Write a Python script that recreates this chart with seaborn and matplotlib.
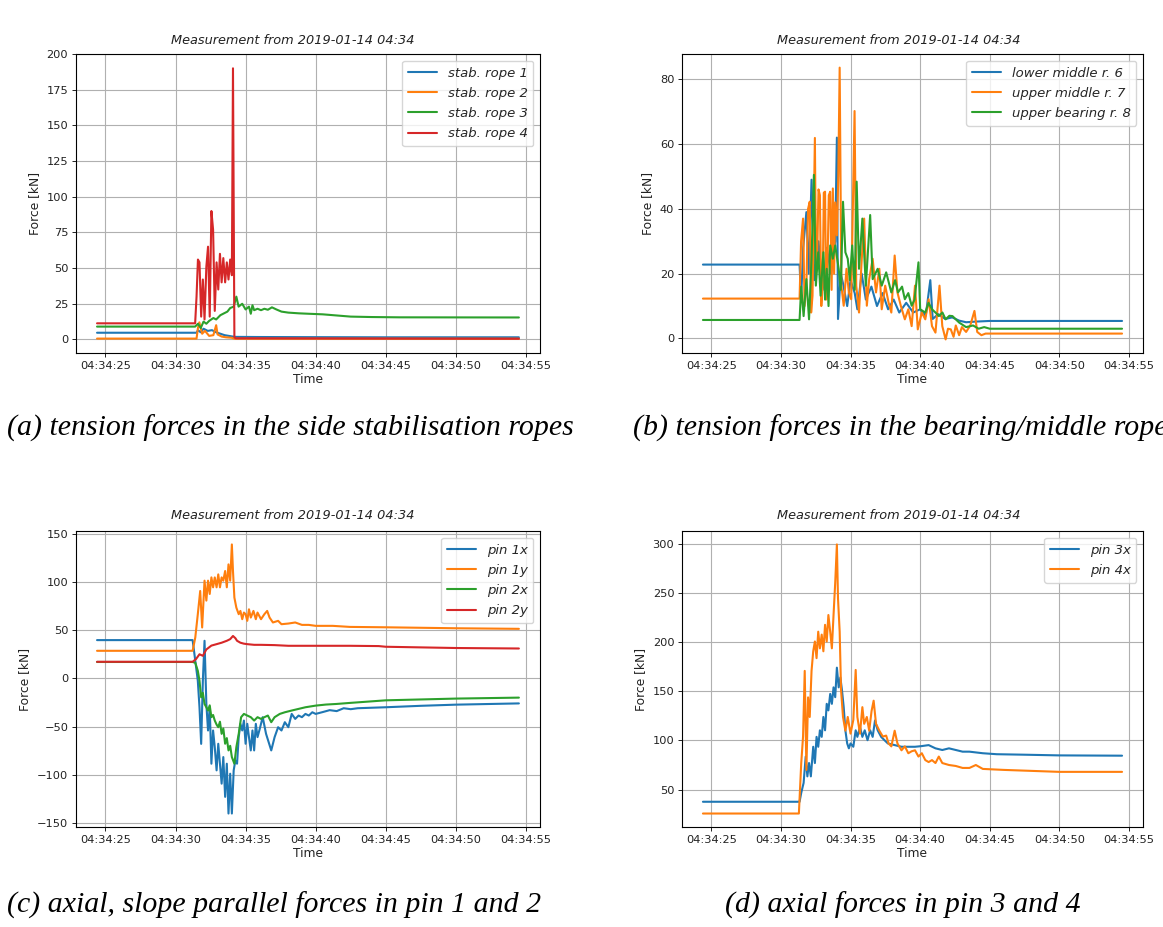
import numpy as np
import pandas as pd
import matplotlib
matplotlib.use("Agg")
import matplotlib.pyplot as plt
import matplotlib.dates as mdates
from matplotlib.ticker import MultipleLocator
import seaborn as sns

# ---------------- data (seconds after 04:34:00, force in kN) ----------------
BASE = "2019-01-14 04:34:00"
TITLE = "Measurement from 2019-01-14 04:34"

# (a) side stabilisation ropes
a_labels = ["stab. rope 1", "stab. rope 2", "stab. rope 3", "stab. rope 4"]
a_t1 = [24.4, 31.5, 31.6, 31.8, 32.0, 32.3, 32.6, 32.9, 33.2, 33.5, 33.8, 34.1, 34.3, 36.0, 40.0, 45.0, 54.5]
a_f1 = [4.7, 4.7, 6.5, 5.0, 7.5, 6.0, 6.5, 5.0, 4.0, 3.0, 2.5, 2.0, 1.8, 1.7, 1.6, 1.5, 1.5]
a_t2 = [24.4, 31.5, 31.6, 31.7, 31.9, 32.1, 32.4, 32.7, 32.9, 33.0, 33.3, 33.6, 34.0, 34.2, 54.5]
a_f2 = [0.6, 0.6, 8.0, 12.0, 4.0, 6.0, 2.5, 3.0, 10.0, 3.5, 2.0, 1.5, 1.2, 0.5, 0.5]
a_t3 = [24.4, 31.4, 31.6, 31.8, 32.0, 32.2, 32.4, 32.7, 32.9, 33.2, 33.4, 33.7, 33.9, 34.15, 34.34,
        34.5, 34.76, 35.0, 35.24, 35.37, 35.49, 35.61, 35.85, 36.1, 36.34, 36.59, 36.88, 37.2,
        37.56, 38.05, 38.8, 39.5, 40.5, 41.5, 42.5, 44.0, 46.0, 54.5]
a_f3 = [9.0, 9.0, 11.0, 8.0, 12.5, 11.0, 13.0, 15.0, 14.0, 17.0, 18.0, 19.5, 22.0, 23.0, 30.0,
        23.0, 25.0, 21.0, 23.0, 18.0, 24.0, 20.5, 21.5, 20.5, 21.5, 20.8, 22.5, 21.0,
        19.5, 18.8, 18.3, 18.0, 17.6, 16.8, 16.0, 15.7, 15.5, 15.4]
a_t4 = [24.4, 31.4, 31.5, 31.6, 31.71, 31.83, 31.95, 32.07, 32.2, 32.32, 32.44, 32.56, 32.68, 32.8,
        32.93, 33.05, 33.17, 33.29, 33.41, 33.54, 33.66, 33.78, 33.9, 34.02, 34.1, 34.2, 34.3, 54.5]
a_f4 = [11.3, 11.3, 30.0, 56.0, 54.0, 16.0, 42.0, 14.0, 51.0, 65.0, 16.0, 90.0, 77.0, 20.0,
        54.0, 35.0, 60.0, 40.0, 57.0, 40.0, 54.0, 42.0, 56.0, 45.0, 190.0, 1.5, 0.8, 0.5]

# (b) bearing / middle ropes
b_labels = ["lower middle r. 6", "upper middle r. 7", "upper bearing r. 8"]
b_t6 = [24.4, 31.34, 31.45, 31.6, 31.83, 32.0, 32.2, 32.4, 32.7, 33.0, 33.3, 33.6, 33.9, 34.02,
        34.1, 34.3, 34.46, 34.76, 35.0, 35.3, 35.49, 35.8, 36.1, 36.5, 36.9, 37.3, 37.7, 38.1,
        38.5, 39.0, 39.5, 40.0, 40.4, 40.73, 40.9, 41.3, 41.8, 42.3, 42.8, 43.3, 44.0, 45.0, 54.5]
b_f6 = [22.8, 22.8, 12.0, 28.0, 39.0, 20.0, 49.0, 18.0, 30.0, 15.0, 28.0, 20.0, 30.0, 62.0,
        6.0, 20.0, 17.0, 10.0, 18.0, 14.0, 9.0, 20.0, 12.0, 16.0, 10.0, 14.0, 9.0, 12.0,
        8.0, 11.0, 8.0, 9.0, 7.0, 18.0, 6.0, 7.5, 6.0, 6.5, 5.5, 5.0, 5.2, 5.4, 5.4]
b_t7 = [24.4, 31.34, 31.45, 31.59, 31.7, 31.83, 31.95, 32.07, 32.17, 32.27,
        32.44, 32.52, 32.61, 32.7, 32.8, 32.9, 33.0, 33.08, 33.17, 33.25,
        33.34, 33.44, 33.54, 33.64, 33.73, 33.82, 33.9, 34.02, 34.12, 34.22,
        34.34, 34.51, 34.71, 34.88, 35.05, 35.29, 35.41, 35.61, 35.78, 35.98,
        36.17, 36.34, 36.59, 36.83, 37.07, 37.24, 37.49, 37.73, 37.93, 38.17,
        38.37, 38.61, 38.9, 39.15, 39.39, 39.63, 39.83, 40.12, 40.37, 40.61,
        40.85, 41.1, 41.39, 41.59, 41.83, 42.0, 42.2, 42.4, 42.56, 42.8,
        43.0, 43.3, 43.6, 43.9, 44.1, 44.4, 44.7, 45.2, 54.5]
b_f7 = [12.3, 12.3, 30.0, 37.0, 10.0, 16.3, 40.0, 42.2, 8.0, 13.2,
        61.9, 20.0, 26.6, 46.0, 44.2, 10.0, 16.3, 45.0, 45.3, 12.0,
        21.5, 44.2, 45.3, 15.0, 46.3, 20.0, 42.0, 31.8, 50.0, 83.6,
        16.3, 10.1, 21.5, 14.2, 12.1, 70.2, 16.3, 8.0, 22.5, 37.0,
        10.1, 18.3, 24.6, 14.2, 21.5, 9.0, 16.3, 11.1, 8.0, 25.6,
        14.2, 10.1, 5.9, 9.0, 3.8, 16.3, 2.8, 8.0, 5.9, 12.1,
        3.8, 1.8, 16.3, 3.8, -0.3, 3.0, 2.8, 0.5, 4.0, 1.0,
        3.5, 2.0, 4.0, 8.5, 2.0, 1.0, 1.5, 1.5, 1.5]
b_t8 = [24.4, 31.34, 31.46, 31.63, 31.83, 32.02, 32.2, 32.37, 32.51, 32.68,
        32.85, 33.05, 33.17, 33.29, 33.42, 33.54, 33.73, 33.9, 34.15, 34.3,
        34.46, 34.63, 34.8, 34.95, 35.12, 35.3, 35.44, 35.61, 35.85, 36.1,
        36.41, 36.59, 36.95, 37.24, 37.56, 37.93, 38.2, 38.41, 38.7, 38.9,
        39.15, 39.39, 39.6, 39.88, 40.0, 40.37, 40.6, 40.85, 41.1, 41.34,
        41.6, 41.83, 42.1, 42.32, 42.8, 43.3, 43.8, 44.2, 44.6, 45.0, 54.5]
b_f8 = [5.7, 5.7, 16.0, 6.9, 18.3, 5.9, 24.6, 50.5, 16.3, 26.6,
        13.2, 26.6, 12.0, 21.5, 10.0, 28.7, 24.6, 28.7, 21.5, 15.0,
        42.2, 26.6, 24.6, 18.0, 28.7, 15.0, 48.4, 21.5, 37.0, 16.3,
        38.1, 18.3, 21.5, 16.3, 20.4, 14.2, 18.0, 14.2, 16.0, 12.1,
        14.0, 10.1, 12.0, 23.5, 9.0, 8.0, 11.0, 9.0, 8.0, 6.9,
        8.0, 5.9, 7.0, 6.9, 4.9, 3.5, 4.0, 3.0, 3.5, 3.0, 3.0]

# (c) pins 1 and 2
c_labels = ["pin 1x", "pin 1y", "pin 2x", "pin 2y"]
c_t1x = [24.4, 31.22, 31.41, 31.59, 31.71, 31.83, 31.95, 32.07, 32.2, 32.32, 32.44, 32.56, 32.68,
         32.8, 32.93, 33.05, 33.17, 33.29, 33.41, 33.54, 33.66, 33.78, 33.9, 34.02, 34.15, 34.27,
         34.39, 34.51, 34.63, 34.76, 34.88, 35.0, 35.12, 35.24, 35.37, 35.49, 35.61, 35.73, 35.85,
         35.98, 36.1, 36.22, 36.46, 36.83, 37.07, 37.32, 37.56, 37.8, 38.05, 38.29, 38.54, 38.78,
         39.02, 39.27, 39.51, 39.76, 40.0, 40.5, 41.0, 41.5, 42.0, 42.5, 43.0, 45.0, 47.5, 50.0, 54.5]
c_f1x = [39.7, 39.7, 18.3, -2.4, -30.0, -68.0, -2.4, 39.0, -26.6, -54.1, -29.7, -88.6, -54.1,
         -71.4, -95.5, -67.9, -88.6, -109.3, -81.7, -123.0, -88.6, -140.3, -99.0, -140.3, -95.5, -85.2,
         -88.6, -60.7, -47.2, -54.1, -43.8, -67.9, -47.2, -61.0, -74.8, -54.1, -74.8, -47.2, -61.0,
         -54.1, -47.2, -40.3, -57.6, -74.8, -61.0, -50.7, -54.1, -45.5, -50.7, -36.9, -42.1, -38.6,
         -40.3, -36.9, -38.6, -35.2, -36.9, -35.0, -33.0, -34.0, -31.0, -32.0, -31.0, -30.0, -28.5, -27.3, -26.0]
c_t1y = [24.4, 31.22, 31.41, 31.59, 31.76, 31.9, 32.07, 32.2, 32.32, 32.44, 32.56, 32.68, 32.8,
         32.93, 33.05, 33.17, 33.29, 33.41, 33.54, 33.66, 33.78, 33.9, 34.02, 34.1, 34.2, 34.34,
         34.51, 34.63, 34.76, 34.88, 35.0, 35.12, 35.24, 35.37, 35.56, 35.73, 35.85, 36.1, 36.34,
         36.54, 36.71, 36.95, 37.32, 37.56, 38.05, 38.54, 39.02, 39.51, 40.0, 41.22, 42.44, 45.0, 50.0, 54.5]
c_f1y = [28.6, 28.6, 42.4, 66.6, 90.7, 52.8, 101.4, 80.7, 101.4, 87.6, 104.8, 94.5, 104.8,
         94.5, 107.9, 94.5, 104.8, 101.4, 111.4, 94.5, 118.3, 101.4, 139.0, 111.4, 83.8, 73.4,
         66.6, 70.0, 61.4, 68.3, 66.6, 59.7, 71.7, 63.1, 70.0, 61.4, 68.3, 61.4, 66.6,
         70.0, 63.1, 58.0, 59.7, 56.2, 56.9, 58.0, 55.5, 55.5, 54.5, 54.5, 53.4, 53.0, 52.0, 51.4]
c_t2x = [24.4, 31.22, 31.41, 31.59, 31.71, 31.83, 31.95, 32.07, 32.2, 32.32, 32.44, 32.56, 32.68,
         32.8, 32.93, 33.05, 33.17, 33.29, 33.41, 33.54, 33.66, 33.78, 33.9, 34.02, 34.2, 34.34,
         34.51, 34.68, 34.88, 35.12, 35.37, 35.61, 35.85, 36.1, 36.34, 36.59, 36.83, 37.07, 37.44,
         37.8, 38.29, 38.78, 39.27, 40.0, 40.73, 41.46, 42.44, 45.0, 50.0, 54.5]
c_f2x = [17.0, 17.0, 16.2, 7.9, -2.4, -19.7, -15.0, -26.6, -30.0, -33.4, -28.0, -40.3, -38.0,
         -43.8, -48.0, -50.7, -45.0, -57.6, -52.0, -67.9, -62.0, -74.8, -70.0, -81.7, -88.6, -71.4,
         -57.6, -40.3, -36.9, -38.6, -40.3, -43.8, -40.3, -42.1, -40.3, -38.6, -45.5, -40.3, -36.9,
         -35.2, -33.4, -31.7, -30.0, -28.3, -27.2, -26.6, -25.5, -22.8, -21.0, -20.0]
c_t2y = [24.4, 31.22, 31.46, 31.71, 31.95, 32.2, 32.56, 32.93, 33.29, 33.66, 33.9, 34.1, 34.27,
         34.39, 34.63, 34.88, 35.12, 35.61, 36.1, 37.07, 38.05, 40.0, 42.44, 44.5, 45.0, 50.0, 54.5]
c_f2y = [17.2, 17.2, 20.0, 25.0, 23.4, 30.0, 34.0, 35.5, 37.0, 39.0, 40.7, 44.0, 41.7,
         39.0, 37.0, 36.0, 35.5, 34.8, 34.8, 34.5, 33.8, 33.8, 33.8, 33.5, 32.8, 31.5, 31.0]

# (d) pins 3 and 4
d_labels = ["pin 3x", "pin 4x"]
d_t3 = [24.4, 31.34, 31.46, 31.63, 31.78, 31.9, 32.02, 32.15, 32.32, 32.44, 32.56, 32.68, 32.8,
        32.93, 33.05, 33.17, 33.29, 33.41, 33.54, 33.66, 33.78, 33.9, 34.02, 34.15, 34.27, 34.39,
        34.51, 34.63, 34.76, 34.88, 35.0, 35.2, 35.37, 35.49, 35.68, 35.85, 36.02, 36.22, 36.41,
        36.59, 36.76, 36.95, 37.2, 37.44, 37.68, 38.17, 38.66, 39.15, 39.63, 40.12, 40.61, 41.1,
        41.59, 42.07, 42.56, 43.05, 43.54, 44.5, 45.5, 47.5, 50.0, 54.5]
d_f3 = [37.5, 37.5, 46.6, 56.7, 83.6, 63.4, 77.0, 63.4, 93.6, 77.0, 103.7, 93.6, 110.4,
        103.7, 124.0, 110.4, 137.4, 130.7, 147.5, 137.4, 154.2, 144.2, 174.3, 154.2, 164.3, 150.8,
        134.0, 110.4, 97.0, 92.0, 97.0, 93.6, 110.4, 103.7, 113.8, 103.7, 110.4, 100.3, 110.4,
        103.7, 120.5, 110.4, 103.7, 100.3, 97.0, 95.3, 93.6, 93.6, 93.6, 94.3, 95.3, 92.0,
        90.3, 92.0, 90.3, 88.6, 88.6, 87.0, 86.0, 85.5, 84.8, 84.5]
d_t4 = [24.4, 31.29, 31.46, 31.59, 31.71, 31.83, 31.95, 32.07, 32.2, 32.32, 32.44, 32.56, 32.68,
        32.8, 32.93, 33.05, 33.17, 33.29, 33.41, 33.54, 33.66, 33.78, 33.9, 34.02, 34.1, 34.22,
        34.32, 34.46, 34.63, 34.8, 35.0, 35.2, 35.37, 35.49, 35.68, 35.85, 35.98, 36.17, 36.34,
        36.51, 36.66, 36.83, 37.07, 37.32, 37.56, 37.73, 37.93, 38.17, 38.37, 38.66, 38.9, 39.15,
        39.39, 39.63, 39.88, 40.12, 40.37, 40.61, 40.85, 41.1, 41.34, 41.59, 42.07, 42.56, 43.05,
        43.54, 44.0, 44.5, 46.0, 50.0, 54.5]
d_f4 = [25.5, 25.5, 77.0, 104.0, 171.0, 70.0, 144.0, 124.0, 171.0, 191.0, 201.0, 184.0, 211.0,
        194.0, 208.0, 191.0, 218.0, 201.0, 228.0, 211.0, 194.0, 228.0, 261.0, 300.0, 245.0, 211.0,
        151.0, 124.0, 110.0, 124.0, 107.0, 121.0, 172.0, 124.0, 107.0, 134.0, 117.0, 124.0, 110.0,
        130.0, 140.6, 117.0, 110.0, 104.0, 105.0, 97.0, 94.0, 110.0, 97.0, 90.0, 94.0, 87.0,
        89.0, 90.0, 83.6, 87.0, 80.0, 78.0, 80.0, 77.0, 83.6, 77.0, 75.0, 74.0, 72.0,
        72.0, 75.0, 71.0, 70.0, 68.0, 68.0]

# ---------------- styling ----------------
PALETTE = ["#1f77b4", "#ff7f0e", "#2ca02c", "#d62728"]

sns.set_theme(style="ticks")
plt.rcParams.update({
    "font.family": ["DejaVu Sans"],
    "axes.edgecolor": "black",
    "axes.linewidth": 0.8,
    "axes.labelsize": 8.8,
    "axes.labelcolor": "#222222",
    "xtick.labelsize": 8.2,
    "ytick.labelsize": 8.2,
    "xtick.color": "#222222",
    "ytick.color": "#222222",
    "xtick.major.size": 3.0,
    "ytick.major.size": 3.0,
    "xtick.major.width": 0.7,
    "ytick.major.width": 0.7,
    "xtick.major.pad": 2.5,
    "ytick.major.pad": 2.5,
})


def to_df(times, values, labels):
    frames = []
    for t, v, lab in zip(times, values, labels):
        frames.append(pd.DataFrame({
            "Time": pd.Timestamp(BASE) + pd.to_timedelta(np.asarray(t), unit="s"),
            "Force": np.asarray(v, dtype=float),
            "Series": lab,
        }))
    return pd.concat(frames, ignore_index=True)


panels = [
    dict(df=to_df([a_t1, a_t2, a_t3, a_t4], [a_f1, a_f2, a_f3, a_f4], a_labels), labels=a_labels,
         rect=[0.0653, 0.6192, 0.3990, 0.3225], step=25, ylim=(-9.5, 200.0),
         title_x=0.252, title_y=0.956),
    dict(df=to_df([b_t6, b_t7, b_t8], [b_f6, b_f7, b_f8], b_labels), labels=b_labels,
         rect=[0.5864, 0.6192, 0.3964, 0.3225], step=20, ylim=None,
         title_x=0.773, title_y=0.956),
    dict(df=to_df([c_t1x, c_t1y, c_t2x, c_t2y], [c_f1x, c_f1y, c_f2x, c_f2y], c_labels), labels=c_labels,
         rect=[0.0653, 0.1079, 0.3990, 0.3193], step=50, ylim=None,
         title_x=0.252, title_y=0.444),
    dict(df=to_df([d_t3, d_t4], [d_f3, d_f4], d_labels), labels=d_labels,
         rect=[0.5864, 0.1079, 0.3964, 0.3193], step=50, ylim=None,
         title_x=0.773, title_y=0.444),
]

fig = plt.figure(figsize=(11.63, 9.27), dpi=100)

for p in panels:
    ax = fig.add_axes(p["rect"])
    pal = dict(zip(p["labels"], PALETTE[:len(p["labels"])]))
    sns.lineplot(data=p["df"], x="Time", y="Force", hue="Series", hue_order=p["labels"],
                 palette=pal, estimator=None, sort=False, linewidth=1.5, ax=ax)
    ax.grid(True, color="#b0b0b0", linewidth=0.8)
    ax.set_axisbelow(True)
    ax.xaxis.set_major_locator(mdates.SecondLocator(bysecond=range(0, 60, 5)))
    ax.xaxis.set_major_formatter(mdates.DateFormatter("%H:%M:%S"))
    ax.yaxis.set_major_locator(MultipleLocator(p["step"]))
    if p["ylim"] is not None:
        ax.set_ylim(*p["ylim"])
    ax.set_xlabel("Time", labelpad=2)
    ax.set_ylabel("Force [kN]", labelpad=4)
    h, l = ax.get_legend_handles_labels()
    ax.legend(h, l, loc="upper right", prop={"style": "italic", "size": 9.5},
              framealpha=0.8, edgecolor="#cccccc", fancybox=True,
              handlelength=2.2, labelspacing=0.55, borderpad=0.45)
    fig.text(p["title_x"], p["title_y"], TITLE, ha="center", va="center",
             fontsize=9.3, style="italic", color="#222222")

cap_kw = dict(family=["Liberation Serif", "DejaVu Serif"], style="italic", fontsize=21.5,
              va="center", ha="left", color="black")
fig.text(7 / 1163, 1 - 428 / 927, "(a) tension forces in the side stabilisation ropes", **cap_kw)
fig.text(633 / 1163, 1 - 428 / 927, "(b) tension forces in the bearing/middle ropes", **cap_kw)
fig.text(7 / 1163, 1 - 905 / 927, "(c) axial, slope parallel forces in pin 1 and 2", **cap_kw)
fig.text(725 / 1163, 1 - 905 / 927, "(d) axial forces in pin 3 and 4", **cap_kw)

fig.savefig("out.png", dpi=100, facecolor="white")
